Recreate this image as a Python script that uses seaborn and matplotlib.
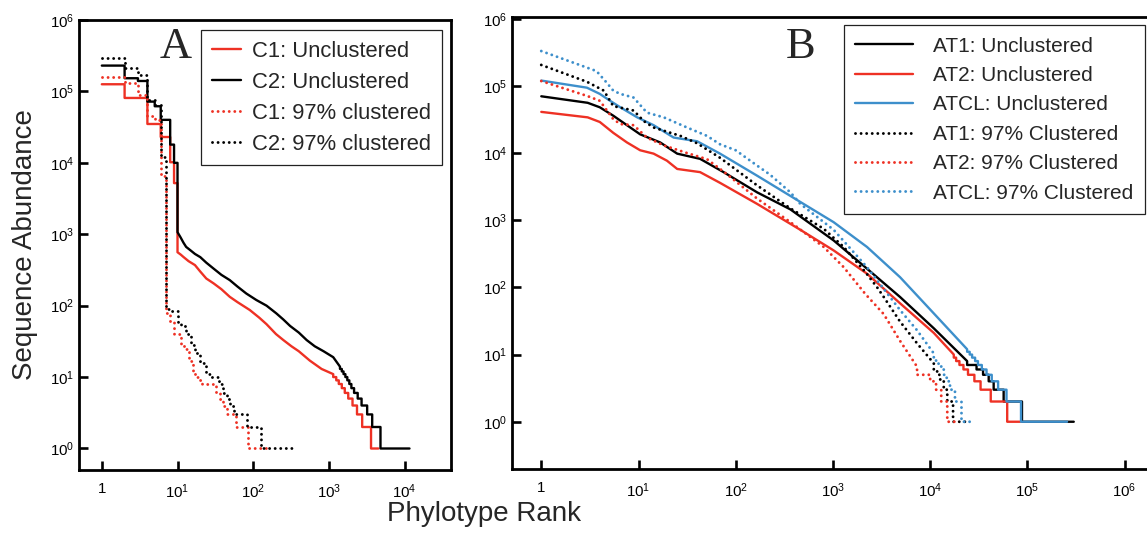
import numpy as np
import pandas as pd
import matplotlib
matplotlib.use("Agg")
import matplotlib.pyplot as plt
from matplotlib.ticker import FixedLocator, FuncFormatter, NullLocator
import seaborn as sns

# ================= Panel A data =================
# C1 unclustered: step head, continuous body, integer-level tail
c1_u_step_rank = [1, 2, 4, 6, 8, 9]
c1_u_step_abund = [1.26e5, 8.1e4, 3.5e4, 2.3e4, 1.02e4, 5.2e3]
c1_u_body_rank = [10, 11, 12, 14, 17, 20, 24, 30, 38, 49, 62, 90, 120, 150, 200, 250, 320, 400,
                  560, 800, 1140]
c1_u_body_abund = [560, 520, 480, 420, 370, 300, 240, 205, 170, 133, 112, 87, 68, 55, 40, 33, 27,
                   23, 17, 13, 11]
c1_u_tail_level = [10, 9, 8, 7, 6, 5, 4, 3, 2, 1]
c1_u_tail_end = [1250, 1350, 1480, 1620, 1800, 2050, 2350, 2750, 3600, 4500]

# C2 unclustered
c2_u_step_rank = [1, 2, 3, 4, 5, 6, 8, 9]
c2_u_step_abund = [2.3e5, 1.53e5, 1.4e5, 7.2e4, 6.2e4, 4.0e4, 1.8e4, 1.0e4]
c2_u_body_rank = [10, 11, 12, 13, 15, 17, 20, 24, 30, 38, 49, 62, 81, 110, 150, 202, 250, 307,
                  400, 508, 650, 850, 1140, 1400]
c2_u_body_abund = [1070, 900, 760, 665, 590, 530, 478, 400, 330, 270, 228, 185, 148, 120, 100, 78,
                   64, 52, 42, 33, 27, 23, 19, 14]
c2_u_tail_level = [13, 12, 11, 10, 9, 8, 7, 6, 5, 4, 3, 2, 1]
c2_u_tail_end = [1480, 1560, 1650, 1750, 1860, 1980, 2150, 2400, 2700, 3200, 3730, 4800, 11600]

# C1 97% clustered (pure step curve)
c1_97_step_rank = [1, 2, 3, 4, 5, 6, 7, 8, 9, 11, 12, 14, 16, 17, 19, 21, 32, 36, 40, 45, 59, 85]
c1_97_step_abund = [1.6e5, 1.3e5, 9e4, 4.5e4, 4.0e4, 6.5e3, 78, 59, 40, 28, 25, 17, 12, 10, 9, 8,
                    6, 5, 4, 3, 2, 1]
c1_97_end = 150

# C2 97% clustered (pure step curve)
c2_97_step_rank = [1, 2, 3, 4, 5, 6, 7, 8, 10, 11, 13, 15, 17, 20, 24, 28, 35, 40, 45, 50, 56,
                   84, 128]
c2_97_step_abund = [2.9e5, 2.15e5, 1.7e5, 7.6e4, 6.5e4, 1.2e4, 91, 85, 60, 52, 40, 28, 22, 16, 11,
                    10, 8, 6, 5, 4, 3, 2, 1]
c2_97_end = 360

# ================= Panel B data =================
at1_u_rank = [1, 3, 4, 5.5, 7.6, 10.4, 16.7, 25, 43, 75, 166, 365, 1017, 2240, 4900, 10900,
              24000]
at1_u_abund = [7.0e4, 5.6e4, 4.8e4, 3.6e4, 2.6e4, 1.9e4, 1.44e4, 9.8e3, 8.2e3, 5.2e3, 2.6e3,
               1.45e3, 500, 190, 72, 24.6, 8]
at1_u_tail_level = [7, 6, 5, 4, 3, 2, 1]
at1_u_tail_end = [3.0e4, 3.5e4, 4.0e4, 4.5e4, 5.7e4, 8.8e4, 3.0e5]

at2_u_rank = [1, 3, 4, 5.5, 7.6, 10.4, 14.3, 19.6, 25, 43, 69, 166, 462, 1017, 2240, 4900,
              10900, 17500]
at2_u_abund = [4.1e4, 3.4e4, 2.9e4, 2.0e4, 1.44e4, 1.1e4, 9.8e3, 7.7e3, 5.8e3, 5.2e3, 3.6e3,
               1.75e3, 720, 355, 160, 58, 21, 10]
at2_u_tail_level = [9, 8, 7, 6, 5, 4, 3, 2, 1]
at2_u_tail_end = [1.85e4, 2.0e4, 2.2e4, 2.45e4, 2.85e4, 3.3e4, 4.2e4, 6.2e4, 8.5e4]

atcl_u_rank = [1, 2.95, 4, 5.1, 6.5, 9.7, 14.3, 23, 40, 69, 166, 365, 1017, 2240, 4900, 10900,
               24000]
atcl_u_abund = [1.2e5, 9.4e4, 7.6e4, 6.0e4, 4.8e4, 3.4e4, 2.6e4, 1.7e4, 1.5e4, 9.8e3, 4.6e3,
                2.3e3, 935, 400, 142, 41, 12]
atcl_u_tail_level = [11, 10, 9, 8, 7, 6, 5, 4, 3, 2, 1]
atcl_u_tail_end = [2.55e4, 2.7e4, 2.9e4, 3.1e4, 3.4e4, 3.8e4, 4.3e4, 5.0e4, 6.1e4, 8.6e4, 2.56e5]

at1_97_rank = [1, 2.95, 4.4, 5.5, 8.9, 11.3, 14.3, 27, 40, 69, 166, 365, 804, 1290, 2150, 2850,
               3330, 4900, 7330, 10900]
at1_97_abund = [2.05e5, 1.15e5, 8.5e4, 5.0e4, 4.3e4, 3.0e4, 2.4e4, 1.8e4, 1.4e4, 8.5e3, 3.3e3,
                1.5e3, 745, 400, 170, 100, 72, 31, 14.7, 7.4]
at1_97_tail_level = [6, 5, 4, 3, 2, 1]
at1_97_tail_end = [1.18e4, 1.27e4, 1.38e4, 1.5e4, 1.72e4, 2.3e4]

at2_97_rank = [1, 2.95, 4, 5.5, 6.5, 8.9, 12.2, 18.2, 31.6, 50.7, 75, 166, 365, 804, 1290, 2150,
               3330, 4900, 7330]
at2_97_abund = [1.18e5, 7.1e4, 6.0e4, 3.2e4, 2.7e4, 2.6e4, 1.7e4, 1.3e4, 1.0e4, 8.1e3, 5.3e3,
                2.1e3, 935, 400, 200, 80, 40, 16, 6.6]
at2_97_tail_level = [5, 4, 3, 2, 1]
at2_97_tail_end = [1.0e4, 1.15e4, 1.3e4, 1.5e4, 1.85e4]

atcl_97_rank = [1, 2.95, 3.7, 4.7, 5.5, 6.5, 8.9, 12.2, 18.2, 31.6, 50.7, 69, 100, 166, 224, 365,
                462, 1017, 2240, 4900, 7330, 10900]
atcl_97_abund = [3.3e5, 1.87e5, 1.66e5, 1.12e5, 8.5e4, 7.6e4, 6.7e4, 4.0e4, 3.4e4, 2.4e4, 1.8e4,
                 1.35e4, 1.1e4, 6.5e3, 4.8e3, 2.6e3, 1.75e3, 720, 200, 46, 23, 10.4]
atcl_97_tail_level = [9, 8, 7, 6, 5, 4, 3, 2, 1]
atcl_97_tail_end = [1.15e4, 1.22e4, 1.3e4, 1.38e4, 1.48e4, 1.6e4, 1.8e4, 2.1e4, 2.6e4]

legend_a = ["C1: Unclustered", "C2: Unclustered", "C1: 97% clustered", "C2: 97% clustered"]
legend_b = ["AT1: Unclustered", "AT2: Unclustered", "ATCL: Unclustered",
            "AT1: 97% Clustered", "AT2: 97% Clustered", "ATCL: 97% Clustered"]

# ================= style =================
sns.set_theme(style="white")
plt.rcParams['font.family'] = ['Liberation Sans', 'DejaVu Sans']
plt.rcParams['mathtext.fontset'] = 'custom'
plt.rcParams['mathtext.rm'] = 'Liberation Sans'
plt.rcParams['mathtext.it'] = 'Liberation Sans:italic'
plt.rcParams['mathtext.bf'] = 'Liberation Sans:bold'

RED = '#EE3124'
BLACK = '#000000'
BLUE = '#3D8FCB'
SOLID_LW = 1.7
DOT_LW = 2.1
DOTTED = (0, (0.01, 1.9))


def build_path(step_rank=(), step_abund=(), body_rank=(), body_abund=(),
               tail_level=(), tail_end=(), end=None):
    r, v = [], []
    n = len(step_rank)
    for i in range(n):
        if i + 1 < n:
            nxt = step_rank[i + 1]
        elif len(body_rank):
            nxt = body_rank[0]
        else:
            nxt = end
        r += [step_rank[i], nxt]
        v += [step_abund[i], step_abund[i]]
    r += list(body_rank)
    v += list(body_abund)
    prev = r[-1]
    for lev, e in zip(tail_level, tail_end):
        r += [prev, e]
        v += [lev, lev]
        prev = e
    return pd.DataFrame({"rank": r, "abundance": v})


def fmt_x(v, _):
    if v <= 0:
        return ""
    e = int(round(np.log10(v)))
    return "1" if e == 0 else r"$\mathregular{10^{%d}}$" % e


def fmt_y(v, _):
    if v <= 0:
        return ""
    e = int(round(np.log10(v)))
    return r"$\mathregular{10^{%d}}$" % e


def style_kw(ls):
    if ls == '-':
        return dict(linewidth=SOLID_LW, linestyle='-')
    return dict(linewidth=DOT_LW, linestyle=DOTTED, dash_capstyle='round')


fig = plt.figure(figsize=(11.47, 5.35), dpi=100)
axA = fig.add_axes([0.0689, 0.1215, 0.3243, 0.8411])
axB = fig.add_axes([0.4464, 0.1234, 0.5536, 0.8448])
for ax in (axA, axB):
    ax.set_xscale('log')
    ax.set_yscale('log')

# ---------------- Panel A ----------------
paths_a = [
    (build_path(c1_u_step_rank, c1_u_step_abund, c1_u_body_rank, c1_u_body_abund,
                c1_u_tail_level, c1_u_tail_end), RED, '-', legend_a[0]),
    (build_path(c2_u_step_rank, c2_u_step_abund, c2_u_body_rank, c2_u_body_abund,
                c2_u_tail_level, c2_u_tail_end), BLACK, '-', legend_a[1]),
    (build_path(c1_97_step_rank, c1_97_step_abund, end=c1_97_end), RED, ':', legend_a[2]),
    (build_path(c2_97_step_rank, c2_97_step_abund, end=c2_97_end), BLACK, ':', legend_a[3]),
]
for df, col, ls, lab in paths_a:
    sns.lineplot(data=df, x="rank", y="abundance", ax=axA, color=col, estimator=None,
                 sort=False, label=lab, **style_kw(ls))

# ---------------- Panel B ----------------
paths_b = [
    (build_path(body_rank=at1_u_rank, body_abund=at1_u_abund, tail_level=at1_u_tail_level,
                tail_end=at1_u_tail_end), BLACK, '-', legend_b[0]),
    (build_path(body_rank=at2_u_rank, body_abund=at2_u_abund, tail_level=at2_u_tail_level,
                tail_end=at2_u_tail_end), RED, '-', legend_b[1]),
    (build_path(body_rank=atcl_u_rank, body_abund=atcl_u_abund, tail_level=atcl_u_tail_level,
                tail_end=atcl_u_tail_end), BLUE, '-', legend_b[2]),
    (build_path(body_rank=at1_97_rank, body_abund=at1_97_abund, tail_level=at1_97_tail_level,
                tail_end=at1_97_tail_end), BLACK, ':', legend_b[3]),
    (build_path(body_rank=at2_97_rank, body_abund=at2_97_abund, tail_level=at2_97_tail_level,
                tail_end=at2_97_tail_end), RED, ':', legend_b[4]),
    (build_path(body_rank=atcl_97_rank, body_abund=atcl_97_abund, tail_level=atcl_97_tail_level,
                tail_end=atcl_97_tail_end), BLUE, ':', legend_b[5]),
]
for df, col, ls, lab in paths_b:
    sns.lineplot(data=df, x="rank", y="abundance", ax=axB, color=col, estimator=None,
                 sort=False, label=lab, **style_kw(ls))

# ---------------- axes cosmetics ----------------
axA.set_xlim(0.5, 4.1e4)
axA.set_ylim(0.5, 1e6)
axA.xaxis.set_major_locator(FixedLocator([1, 1e1, 1e2, 1e3, 1e4]))
axB.set_xlim(0.5, 1.7e6)
axB.set_ylim(0.198, 1.06e6)
axB.xaxis.set_major_locator(FixedLocator([1, 1e1, 1e2, 1e3, 1e4, 1e5, 1e6]))
for ax in (axA, axB):
    ax.yaxis.set_major_locator(FixedLocator([1, 1e1, 1e2, 1e3, 1e4, 1e5, 1e6]))
    ax.xaxis.set_minor_locator(NullLocator())
    ax.yaxis.set_minor_locator(NullLocator())
    ax.xaxis.set_major_formatter(FuncFormatter(fmt_x))
    ax.yaxis.set_major_formatter(FuncFormatter(fmt_y))
    ax.tick_params(axis='both', which='major', direction='in', length=6.5, width=1.9,
                   labelsize=10.8, color='black', labelcolor='black',
                   bottom=True, left=True, top=False, right=False)
    ax.tick_params(axis='x', pad=9)
    ax.tick_params(axis='y', pad=3.5)
    ax.set_xlabel("")
    ax.set_ylabel("")
    for s in ax.spines.values():
        s.set_linewidth(2.0)
        s.set_color('black')
axB.spines['right'].set_visible(False)

legA = axA.legend(loc='upper right', bbox_to_anchor=(0.976, 0.978), borderaxespad=0,
                  fontsize=15.8, handlelength=1.32, handletextpad=0.5, borderpad=0.5,
                  labelspacing=0.45, frameon=True, fancybox=False, framealpha=1)
legA.get_frame().set_edgecolor('#222222')
legA.get_frame().set_linewidth(0.9)

legB = axB.legend(loc='upper right', bbox_to_anchor=(0.997, 0.982), borderaxespad=0,
                  fontsize=15, handlelength=2.75, handletextpad=1.0, borderpad=0.55,
                  labelspacing=0.5, frameon=True, fancybox=False, framealpha=1)
legB.get_frame().set_edgecolor('#222222')
legB.get_frame().set_linewidth(0.9)

fig.text(176 / 1147, 1 - 47 / 535, "A", family=['Liberation Serif', 'DejaVu Serif'],
         fontsize=32, ha='center', va='center')
fig.text(801 / 1147, 1 - 47 / 535, "B", family=['Liberation Serif', 'DejaVu Serif'],
         fontsize=32, ha='center', va='center')

fig.text(25 / 1147, 1 - 245 / 535, "Sequence Abundance", rotation=90, fontsize=20,
         ha='center', va='center')
fig.text(484 / 1147, 1 - 514 / 535, "Phylotype Rank", fontsize=20, ha='center', va='center')

fig.savefig("out.png", dpi=100)
